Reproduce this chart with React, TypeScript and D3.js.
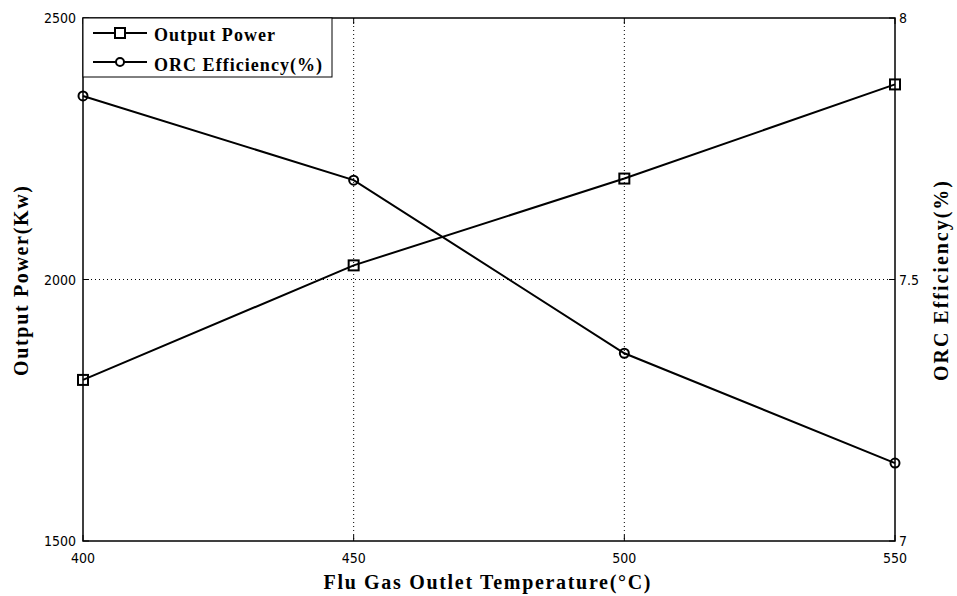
import React from "react";
import * as d3 from "d3";

// Flue gas outlet temperature (°C)
const temperatures = [400, 450, 500, 550];
// Output power (kW)
const outputPower = [1808, 2027, 2193, 2373];
// ORC efficiency (%)
const orcEfficiency = [7.851, 7.69, 7.359, 7.149];

const xTicks = [400, 450, 500, 550];
const leftTicks = [1500, 2000, 2500];
const rightTicks = [7, 7.5, 8];

const W = 957;
const H = 596;
const M = { left: 83, right: 895, top: 18, bottom: 541 };

const tickFont = "'DejaVu Sans Condensed', 'Liberation Sans Narrow', 'DejaVu Sans', sans-serif";
const serif = "'Liberation Serif', 'DejaVu Serif', serif";

export default function App() {
  const x = d3.scaleLinear().domain([400, 550]).range([M.left, M.right]);
  const yL = d3.scaleLinear().domain([1500, 2500]).range([M.bottom, M.top]);
  const yR = d3.scaleLinear().domain([7, 8]).range([M.bottom, M.top]);

  const powerLine = d3
    .line<number>()
    .x((_, i) => x(temperatures[i]))
    .y((d) => yL(d));
  const effLine = d3
    .line<number>()
    .x((_, i) => x(temperatures[i]))
    .y((d) => yR(d));

  const sq = 10;
  const r = 4.5;

  return (
    <svg
      width={W}
      height={H}
      style={{ position: "absolute", left: 0, top: 0, background: "#fff" }}
    >
      <rect x={0} y={0} width={W} height={H} fill="#fff" />
      {/* grid */}
      {xTicks
        .filter((t) => t !== 400 && t !== 550)
        .map((t) => (
          <line
            key={"gx" + t}
            x1={x(t)}
            x2={x(t)}
            y1={M.top}
            y2={M.bottom}
            stroke="#000"
            strokeWidth={1}
            strokeDasharray="1,3"
          />
        ))}
      {leftTicks
        .filter((t) => t === 2000)
        .map((t) => (
          <line
            key={"gy" + t}
            x1={M.left}
            x2={M.right}
            y1={yL(t)}
            y2={yL(t)}
            stroke="#000"
            strokeWidth={1}
            strokeDasharray="1,3"
          />
        ))}
      {/* inner ticks */}
      {xTicks.map((t) => (
        <g key={"tx" + t}>
          <line x1={x(t)} x2={x(t)} y1={M.bottom} y2={M.bottom - 6} stroke="#000" />
          <line x1={x(t)} x2={x(t)} y1={M.top} y2={M.top + 6} stroke="#000" />
        </g>
      ))}
      {leftTicks.map((t) => (
        <line key={"tl" + t} x1={M.left} x2={M.left + 6} y1={yL(t)} y2={yL(t)} stroke="#000" />
      ))}
      {rightTicks.map((t) => (
        <line key={"tr" + t} x1={M.right} x2={M.right - 6} y1={yR(t)} y2={yR(t)} stroke="#000" />
      ))}
      {/* frame */}
      <rect
        x={M.left}
        y={M.top}
        width={M.right - M.left}
        height={M.bottom - M.top}
        fill="none"
        stroke="#000"
        strokeWidth={1.5}
      />
      {/* tick labels */}
      {xTicks.map((t) => (
        <text
          key={"lx" + t}
          x={x(t)}
          y={M.bottom + 22}
          textAnchor="middle"
          fontFamily={tickFont}
          fontSize={14}
          fill="#000"
        >
          {t}
        </text>
      ))}
      {leftTicks.map((t) => (
        <text
          key={"ll" + t}
          x={M.left - 7}
          y={yL(t) + 5}
          textAnchor="end"
          fontFamily={tickFont}
          fontSize={14}
          fill="#000"
        >
          {t}
        </text>
      ))}
      {rightTicks.map((t) => (
        <text
          key={"lr" + t}
          x={M.right + 4}
          y={yR(t) + 5}
          textAnchor="start"
          fontFamily={tickFont}
          fontSize={14}
          fill="#000"
        >
          {t}
        </text>
      ))}
      {/* axis titles */}
      <text
        x={487}
        y={589}
        textAnchor="middle"
        fontFamily={serif}
        fontWeight="bold"
        fontSize={20}
        textLength={327}
        lengthAdjust="spacing"
        fill="#000"
      >
        Flu Gas Outlet Temperature(°C)
      </text>
      <text
        transform={`translate(28,281) rotate(-90)`}
        textAnchor="middle"
        fontFamily={serif}
        fontWeight="bold"
        fontSize={20}
        textLength={190}
        lengthAdjust="spacing"
        fill="#000"
      >
        Output Power(Kw)
      </text>
      <text
        transform={`translate(948,281) rotate(-90)`}
        textAnchor="middle"
        fontFamily={serif}
        fontWeight="bold"
        fontSize={20}
        textLength={200}
        lengthAdjust="spacing"
        fill="#000"
      >
        ORC Efficiency(%)
      </text>
      {/* series */}
      <path d={powerLine(outputPower) ?? ""} fill="none" stroke="#000" strokeWidth={2} />
      <path d={effLine(orcEfficiency) ?? ""} fill="none" stroke="#000" strokeWidth={2} />
      {outputPower.map((v, i) => (
        <rect
          key={"p" + i}
          x={x(temperatures[i]) - sq / 2}
          y={yL(v) - sq / 2}
          width={sq}
          height={sq}
          fill="none"
          stroke="#000"
          strokeWidth={2}
        />
      ))}
      {orcEfficiency.map((v, i) => (
        <circle
          key={"e" + i}
          cx={x(temperatures[i])}
          cy={yR(v)}
          r={r}
          fill="none"
          stroke="#000"
          strokeWidth={2}
        />
      ))}
      {/* legend */}
      <rect
        x={M.left}
        y={M.top}
        width={249}
        height={59}
        fill="#fff"
        stroke="#000"
        strokeWidth={1}
      />
      <line x1={93} x2={147} y1={33} y2={33} stroke="#000" strokeWidth={2} />
      <rect x={120 - 5} y={33 - 5} width={10} height={10} fill="#fff" stroke="#000" strokeWidth={2} />
      <text
        x={154}
        y={41}
        fontFamily={serif}
        fontWeight="bold"
        fontSize={18}
        textLength={121}
        lengthAdjust="spacing"
        fill="#000"
      >
        Output Power
      </text>
      <line x1={93} x2={147} y1={62} y2={62} stroke="#000" strokeWidth={2} />
      <circle cx={120} cy={62} r={4} fill="#fff" stroke="#000" strokeWidth={2} />
      <text
        x={154}
        y={71}
        fontFamily={serif}
        fontWeight="bold"
        fontSize={18}
        textLength={168}
        lengthAdjust="spacing"
        fill="#000"
      >
        ORC Efficiency(%)
      </text>
    </svg>
  );
}
